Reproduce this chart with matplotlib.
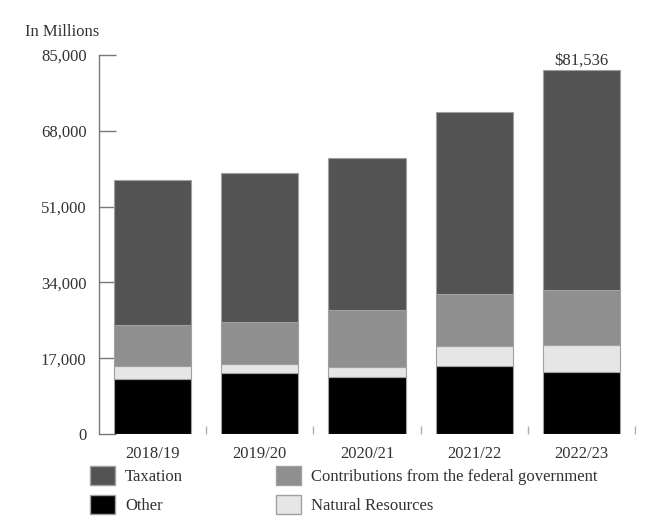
import matplotlib
matplotlib.use("Agg")
import matplotlib.pyplot as plt
from matplotlib.patches import Patch
import numpy as np

years = ["2018/19", "2019/20", "2020/21", "2021/22", "2022/23"]
other = [12400, 13700, 12800, 15200, 13900]
natural_resources = [2800, 2100, 2300, 4500, 6100]
contributions = [9300, 9400, 12800, 11800, 12400]
taxation = [32500, 33300, 34000, 40700, 49136]
yticks = [0, 17000, 34000, 51000, 68000, 85000]
total_label = "$81,536"

plt.rcParams['font.family'] = ['Liberation Serif', 'DejaVu Serif']
txt = '#333333'
FS = 12

fig = plt.figure(figsize=(6.66, 5.19), dpi=100)
W, H = 666, 519
ax = fig.add_axes([99 / W, 1 - 434 / H, (635 - 99) / W, (434 - 55) / H])

x = np.arange(len(years))
series = [
    ("Other", other, "#000000"),
    ("Natural Resources", natural_resources, "#e6e6e6"),
    ("Contributions from the federal government", contributions, "#8f8f8f"),
    ("Taxation", taxation, "#535353"),
]
bottom = np.zeros(len(years))
for name, vals, col in series:
    ax.bar(x, vals, width=0.72, bottom=bottom, color=col, edgecolor='#a0a0a0',
           linewidth=0.8, zorder=3)
    bottom += np.array(vals)

ax.text(x[-1], bottom[-1] + 300, total_label, ha='center', va='bottom',
        fontsize=FS, color=txt)

ax.set_xlim(-0.5, len(years) - 0.5)
ax.set_ylim(0, 85000)
ax.set_yticks(yticks)
ax.set_yticklabels([f"{v:,}" for v in yticks], fontsize=FS, color=txt)
ax.tick_params(axis='y', direction='in', length=12, width=1, color='#777777', pad=9)
ax.set_xticks(x)
ax.set_xticklabels(years, fontsize=FS, color=txt)
ax.tick_params(axis='x', which='major', length=0, pad=9)
ax.set_xticks(np.arange(len(years)) + 0.5, minor=True)
ax.tick_params(axis='x', which='minor', direction='in', length=6, width=1, color='#b0b0b0')
for s in ['top', 'right', 'bottom']:
    ax.spines[s].set_visible(False)
ax.spines['left'].set_color('#777777')
ax.spines['left'].set_linewidth(1)

fig.text(25 / W, 1 - 32 / H, "In Millions", ha='left', va='center', fontsize=FS, color=txt)

handles = [
    Patch(facecolor="#535353", edgecolor='#a0a0a0', label="Taxation"),
    Patch(facecolor="#000000", edgecolor='#a0a0a0', label="Other"),
    Patch(facecolor="#8f8f8f", edgecolor='#a0a0a0', label="Contributions from the federal government"),
    Patch(facecolor="#e6e6e6", edgecolor='#a0a0a0', label="Natural Resources"),
]
leg = fig.legend(handles=handles, loc='upper left', bbox_to_anchor=(90 / W, 1 - 466 / H),
                 ncol=2, frameon=False, fontsize=FS, handlelength=1.5, handleheight=1.35,
                 handletextpad=0.6, labelspacing=0.62, columnspacing=5.6, borderpad=0,
                 borderaxespad=0)
for t in leg.get_texts():
    t.set_color(txt)

fig.savefig("out.png", dpi=100)
